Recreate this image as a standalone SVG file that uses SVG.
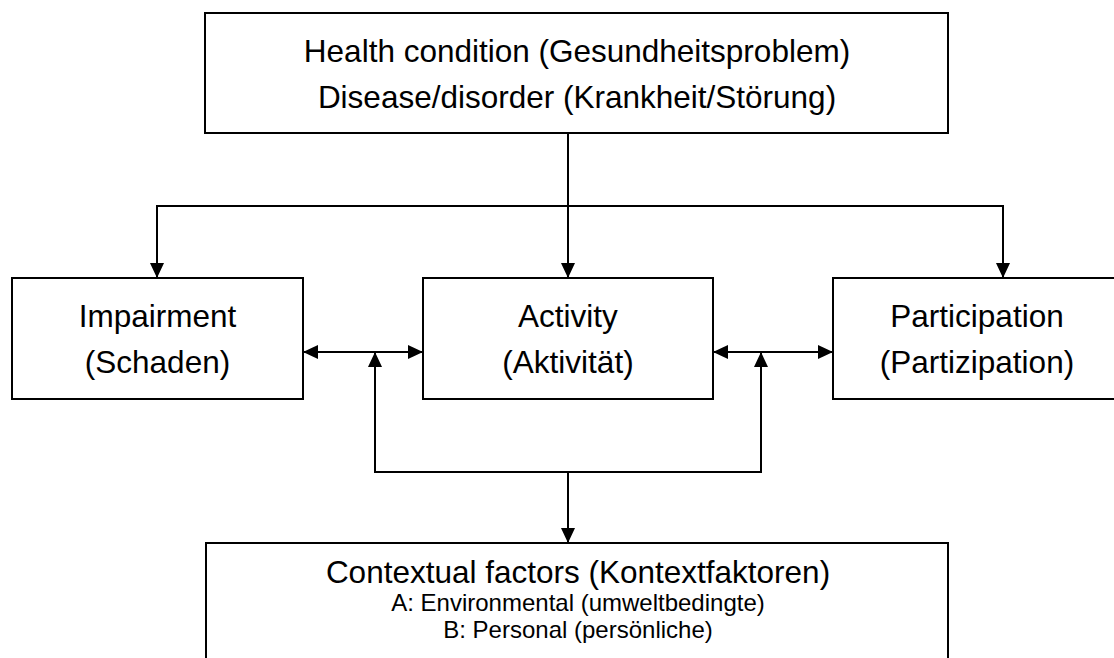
<svg xmlns="http://www.w3.org/2000/svg" width="1114" height="658" viewBox="0 0 1114 658">
<style>
.box{fill:#fff;stroke:#000;stroke-width:2}
.t{font-family:"Liberation Sans",Arial,sans-serif;font-size:31.5px;fill:#000;text-anchor:middle}
.s{font-family:"Liberation Sans",Arial,sans-serif;font-size:24px;fill:#000;text-anchor:middle}
.c{fill:none;stroke:#000;stroke-width:2}
</style>
<defs>
<marker id="ah" viewBox="0 0 15 14" refX="15" refY="7" markerWidth="15" markerHeight="14" markerUnits="userSpaceOnUse" orient="auto-start-reverse">
<path d="M0,0 L15,7 L0,14 Z" fill="#000"/>
</marker>
</defs>
<rect width="1114" height="658" fill="#fff"/>
<g id="health">
<rect class="box" x="205" y="13" width="743" height="120"/>
<text class="t" x="577" y="62">Health condition (Gesundheitsproblem)</text>
<text class="t" x="577" y="108">Disease/disorder (Krankheit/Störung)</text>
</g>
<g id="impairment">
<rect class="box" x="12" y="278" width="291" height="121"/>
<text class="t" x="157.5" y="327">Impairment</text>
<text class="t" x="157.5" y="373">(Schaden)</text>
</g>
<g id="activity">
<rect class="box" x="423" y="278" width="290" height="121"/>
<text class="t" x="568" y="327">Activity</text>
<text class="t" x="568" y="373">(Aktivität)</text>
</g>
<g id="participation">
<rect class="box" x="833" y="278" width="290" height="121"/>
<text class="t" x="977" y="327">Participation</text>
<text class="t" x="977" y="373">(Partizipation)</text>
</g>
<g id="contextual">
<rect class="box" x="206" y="543" width="742" height="130"/>
<text class="t" x="578" y="583">Contextual factors (Kontextfaktoren)</text>
<text class="s" x="578" y="611">A: Environmental (umweltbedingte)</text>
<text class="s" x="578" y="638">B: Personal (persönliche)</text>
</g>
<g id="connectors">
<path class="c" d="M568,133 V278" marker-end="url(#ah)"/>
<path class="c" d="M157,278 V206 H1003 V278" marker-start="url(#ah)" marker-end="url(#ah)"/>
<path class="c" d="M303,352 H423" marker-start="url(#ah)" marker-end="url(#ah)"/>
<path class="c" d="M713,352 H833" marker-start="url(#ah)" marker-end="url(#ah)"/>
<path class="c" d="M375,352 V472 H761 V352" marker-start="url(#ah)" marker-end="url(#ah)"/>
<path class="c" d="M568,472 V543" marker-end="url(#ah)"/>
</g>
</svg>
